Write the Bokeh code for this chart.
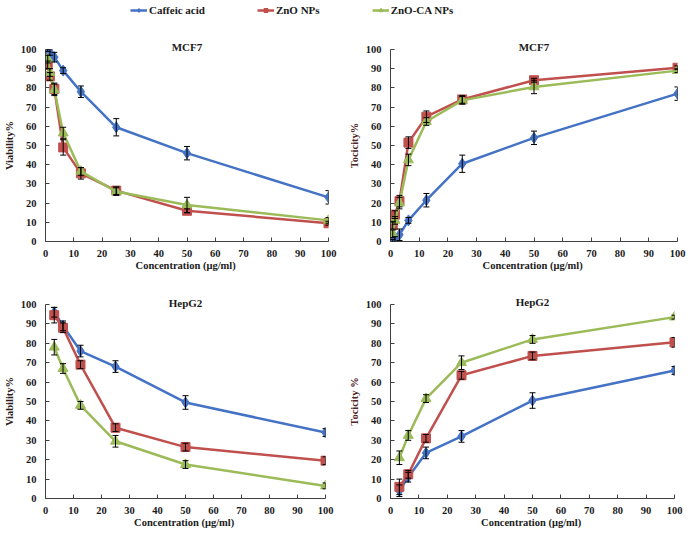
from bokeh.plotting import figure
from bokeh.models import (ColumnDataSource, Range1d, Whisker, TeeHead,
                          Legend, LegendItem, SingleIntervalTicker)
from bokeh.layouts import column, row
from bokeh.embed import file_html
from bokeh.resources import INLINE

# ---------------- data ----------------
series_names = ["Caffeic acid", "ZnO NPs", "ZnO-CA NPs"]
colors = ["#4472C4", "#C0504D", "#9BBB59"]
markers = ["diamond", "square", "triangle"]
marker_sizes = [11, 9, 10]

conc_mcf7 = [0.78, 1.56, 3.125, 6.25, 12.5, 25, 50, 100]
conc_hepg2 = [3.125, 6.25, 12.5, 25, 50, 100]

# MCF7 viability
mcf7_via_ca = [100, 98.5, 96, 89, 78, 59.5, 46, 23]
mcf7_via_ca_err = [1, 1.5, 2.5, 1.5, 3, 4.5, 3.5, 3.5]
mcf7_via_zno = [92, 86, 79.5, 49, 35.5, 26.5, 16, 9.5]
mcf7_via_zno_err = [2, 2, 3, 4, 3, 2, 1, 1]
mcf7_via_znoca = [95, 88, 79, 56.5, 36.5, 26, 19, 11]
mcf7_via_znoca_err = [2, 2, 3, 3, 2, 2, 4, 1.5]

# MCF7 toxicity
mcf7_tox_ca = [0, 1, 3.5, 11, 21.5, 40.5, 54, 77]
mcf7_tox_ca_err = [1, 1.5, 3, 1.5, 3.5, 4.5, 3.5, 3.5]
mcf7_tox_zno = [8.5, 14, 21, 51.5, 65, 74, 84, 90.5]
mcf7_tox_zno_err = [2, 2, 3, 3, 3, 2, 1, 1]
mcf7_tox_znoca = [4, 11, 20, 42.5, 62.5, 73.5, 80.5, 89]
mcf7_tox_znoca_err = [2, 2, 3, 3, 2, 2, 3.5, 1]

# HepG2 viability
hep_via_ca = [96, 89, 76, 68, 49.5, 34]
hep_via_ca_err = [2.5, 2.5, 3, 3, 3.5, 2]
hep_via_zno = [94.5, 88, 69, 36.5, 26.5, 19.5]
hep_via_zno_err = [4, 2.5, 2, 2, 2, 2]
hep_via_znoca = [78, 67, 48, 29.5, 17.5, 6.5]
hep_via_znoca_err = [4, 2.5, 2, 3, 2, 1.5]

# HepG2 toxicity
hep_tox_ca = [4, 11, 23.5, 32, 50.5, 66]
hep_tox_ca_err = [3, 2.5, 3, 3, 4, 2]
hep_tox_zno = [6, 12.5, 31, 63.5, 73.5, 80.5]
hep_tox_zno_err = [4, 2, 2, 2, 2, 2.5]
hep_tox_znoca = [21, 32.5, 51.5, 70, 82, 93.5]
hep_tox_znoca_err = [3.5, 2.5, 2, 3.5, 2, 1]

FONT = "Liberation Serif"


def panel(width, height, borders, x, series, errs, title, title_x, title_standoff,
          ylabel, ylabel_color):
    left, right, top, bottom = borders
    p = figure(width=width, height=height, output_backend="svg", toolbar_location=None,
               x_range=Range1d(0, 100), y_range=Range1d(0, 100),
               min_border_left=left, min_border_right=right,
               min_border_top=top, min_border_bottom=bottom)
    p.outline_line_color = None
    p.grid.visible = False
    for ax in (p.xaxis[0], p.yaxis[0]):
        ax.ticker = SingleIntervalTicker(interval=10)
        ax.minor_tick_line_color = None
        ax.major_tick_in = 4
        ax.major_tick_out = 0
        ax.axis_line_color = "#404040"
        ax.major_tick_line_color = "#404040"
        ax.major_label_text_font = FONT
        ax.major_label_text_font_style = "bold"
        ax.major_label_text_font_size = "10.5px"
        ax.major_label_text_color = "#1a1a1a"
        ax.axis_label_text_font = FONT
        ax.axis_label_text_font_style = "bold"
        ax.axis_label_text_font_size = "10.5px"
    p.xaxis.axis_label = "Concentration  (\u03bcg/ml)"
    p.xaxis.axis_label_text_color = "#1a1a1a"
    p.xaxis.major_label_standoff = 4
    p.xaxis.axis_label_standoff = 0
    p.yaxis.axis_label = ylabel
    p.yaxis.axis_label_text_color = ylabel_color
    p.yaxis.major_label_standoff = 5
    p.yaxis.axis_label_standoff = 3

    for i, (ys, es) in enumerate(zip(series, errs)):
        src = ColumnDataSource(dict(x=x, y=ys,
                                    lo=[a - b for a, b in zip(ys, es)],
                                    hi=[a + b for a, b in zip(ys, es)]))
        p.line("x", "y", source=src, line_color=colors[i], line_width=2.5)
        p.scatter("x", "y", source=src, marker=markers[i], size=marker_sizes[i],
                  fill_color=colors[i], line_color=colors[i])
        w = Whisker(source=src, base="x", upper="hi", lower="lo", dimension="height",
                    line_color="black", line_width=1, level="overlay",
                    upper_head=TeeHead(size=6, line_color="black", line_width=1),
                    lower_head=TeeHead(size=6, line_color="black", line_width=1))
        p.add_layout(w)

    p.title.text = title
    p.title.align = "center"
    p.title.offset = (title_x - 50) * 2.85
    p.title.text_font = FONT
    p.title.text_font_style = "bold"
    p.title.text_font_size = "11px"
    p.title.text_color = "#1a1a1a"
    p.title.standoff = title_standoff
    return p


p1 = panel(345, 256, (35, 17, 29, 35), conc_mcf7,
           [mcf7_via_ca, mcf7_via_zno, mcf7_via_znoca],
           [mcf7_via_ca_err, mcf7_via_zno_err, mcf7_via_znoca_err],
           "MCF7", 45, -6, "Viability%", "#2a1a1a")
p2 = panel(343, 256, (44, 11, 27, 35), conc_mcf7,
           [mcf7_tox_ca, mcf7_tox_zno, mcf7_tox_znoca],
           [mcf7_tox_ca_err, mcf7_tox_zno_err, mcf7_tox_znoca_err],
           "MCF7", 44.5, -6, "Tocicity%", "#4d2323")
p3 = panel(345, 258, (35, 20, 28, 35), conc_hepg2,
           [hep_via_ca, hep_via_zno, hep_via_znoca],
           [hep_via_ca_err, hep_via_zno_err, hep_via_znoca_err],
           "HepG2", 45, -8, "Viability%", "#2a1a1a")
p4 = panel(343, 258, (44, 14, 23, 36), conc_hepg2,
           [hep_tox_ca, hep_tox_zno, hep_tox_znoca],
           [hep_tox_ca_err, hep_tox_zno_err, hep_tox_znoca_err],
           "HepG2", 47.5, -6, "Tocicity %", "#4d2323")

# legend strip
lg = figure(width=688, height=20, output_backend="svg", toolbar_location=None,
            x_range=Range1d(0, 1), y_range=Range1d(0, 1),
            min_border=0)
lg.axis.visible = False
lg.grid.visible = False
lg.outline_line_color = None
items = []
for i, name in enumerate(series_names):
    src = ColumnDataSource(dict(x=[-5], y=[-5]))
    l = lg.line("x", "y", source=src, line_color=colors[i], line_width=2.5)
    s = lg.scatter("x", "y", source=src, marker=markers[i], size=marker_sizes[i] - 2,
                   fill_color=colors[i], line_color=colors[i])
    items.append(LegendItem(label=name, renderers=[l, s]))
legend = Legend(items=items, orientation="horizontal", location=(130, 4),
                spacing=52, padding=0, margin=0, glyph_width=17, glyph_height=10,
                label_standoff=2, label_text_font=FONT, label_text_font_style="bold",
                label_text_font_size="11px", label_text_color="#1a1a1a",
                border_line_color=None, background_fill_alpha=0)
lg.add_layout(legend)

layout = column(lg, row(p1, p2), row(p3, p4), spacing=0)

open("out.html", "w").write(file_html(layout, INLINE))
